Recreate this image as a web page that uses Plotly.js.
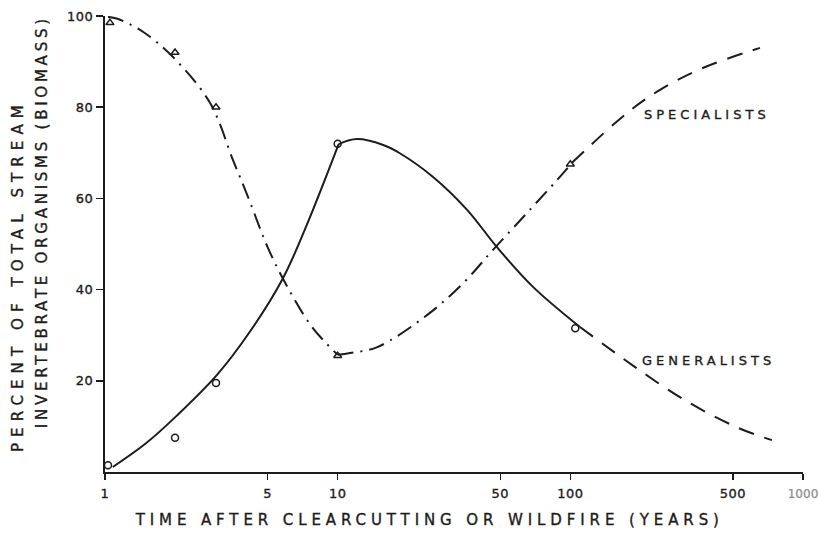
<!DOCTYPE html>
<html>
<head>
<meta charset="utf-8">
<script src="https://cdn.plot.ly/plotly-3.0.1.min.js"></script>
<style>
  html, body { margin: 0; padding: 0; background: #fff; }
  #chart { width: 819px; height: 533px; }
  .xtick text, .ytick text { letter-spacing: 0.5px; }
  .xtick text, .ytick text, .annotation text { stroke: #1c1c1c; stroke-width: 0.35px; }
  .xtick:last-of-type text { font-size: 12px !important; letter-spacing: 0; fill: #8a8a8a !important; stroke: #8a8a8a; stroke-width: 0.2px; }
  .annotation[data-index="0"] text { letter-spacing: 4px; }
  .annotation[data-index="1"] text { letter-spacing: 4px; }
  .annotation[data-index="2"] text { letter-spacing: 4.9px; }
  .annotation[data-index="3"] text { letter-spacing: 6.1px; }
  .annotation[data-index="4"] text { letter-spacing: 3.75px; }
</style>
</head>
<body>
<div id="chart"></div>
<script>
// Observed samples (percent of total biomass)
const specPtsX = [1.05, 2, 3, 10, 100];
const specPtsY = [98.5, 92, 80, 25.5, 67.5];
const genPtsX = [1.03, 2, 3, 10, 105];
const genPtsY = [1.5, 7.5, 19.5, 72, 31.5];

// Specialists fitted curve: decline, recovery, projected tail
const specFallX = [1.03, 1.13, 1.46, 1.96, 2.83, 3.55, 4.12, 5.02, 6.11, 7.76, 10.0];
const specFallY = [99.8, 99.4, 96.5, 91.0, 80.9, 68.4, 60.3, 49.1, 40.4, 31.8, 25.7];
const specRiseX = [10.0, 11.3, 14.8, 24.2, 34.6, 46.5, 65.1, 87.6, 101.6];
const specRiseY = [25.7, 26.1, 27.4, 34.4, 41.4, 48.7, 56.8, 64.0, 67.8];
const specTailX = [101.6, 175, 243, 371, 653];
const specTailY = [67.8, 78.7, 83.8, 88.6, 93.0];

// Generalists fitted curve: rise, decline, projected tail
const genRiseX = [1.08, 1.5, 2.02, 3.03, 4.2, 5.82, 7.3, 10.1];
const genRiseY = [1.1, 6.3, 12.2, 21.3, 30.8, 42.5, 53.7, 71.9];
const genFallX = [10.1, 12.1, 15.7, 18.5, 25.7, 36, 48.4, 69.1, 110];
const genFallY = [71.9, 73.0, 71.7, 69.9, 64.7, 57.5, 49.3, 40.6, 31.8];
const genTailX = [110, 184, 314, 531, 735];
const genTailY = [31.8, 23.5, 15.6, 9.6, 7.0];

const xTickVals = [1, 5, 10, 50, 100, 500, 1000];
const xTickText = ['1', '5', '10', '50', '100', '500', '1000'];
const yTickVals = [20, 40, 60, 80, 100];
const yTickText = ['20', '40', '60', '80', '100'];

const ink = '#1c1c1c';
const dashDot = '16px,7px,2px,7px';
const dashed = '16px,11px';

function curve(x, y, dash) {
  return {
    x: x, y: y, type: 'scatter', mode: 'lines', cliponaxis: false,
    line: { color: ink, width: 2, dash: dash, shape: 'spline', smoothing: 1 },
    hoverinfo: 'skip', showlegend: false
  };
}
function points(x, y, symbol) {
  return {
    x: x, y: y, type: 'scatter', mode: 'markers', cliponaxis: false,
    marker: { symbol: symbol, size: 7, color: ink, line: { color: ink, width: 1.5 } },
    showlegend: false
  };
}

const data = [
  curve(specFallX, specFallY, dashDot),
  curve(specRiseX, specRiseY, dashDot),
  curve(specTailX, specTailY, dashed),
  curve(genRiseX, genRiseY, 'solid'),
  curve(genFallX, genFallY, 'solid'),
  curve(genTailX, genTailY, dashed),
  points(specPtsX, specPtsY, 'triangle-up-open'),
  points(genPtsX, genPtsY, 'circle-open')
];

const font = { family: 'DejaVu Sans, Liberation Sans, sans-serif', color: ink };

const layout = {
  width: 819, height: 533,
  margin: { l: 105, r: 16, t: 16, b: 61 },
  paper_bgcolor: '#ffffff', plot_bgcolor: '#ffffff',
  font: Object.assign({ size: 12 }, font),
  showlegend: false,
  xaxis: {
    type: 'log', range: [0, 3],
    showgrid: false, zeroline: false,
    showline: true, linecolor: ink, linewidth: 2,
    ticks: 'outside', ticklen: 6, tickwidth: 1.5, tickcolor: ink,
    tickvals: xTickVals, ticktext: xTickText,
    ticklabelstandoff: 2, ticklabeloverflow: 'allow',
    tickfont: Object.assign({ size: 13 }, font)
  },
  yaxis: {
    range: [0, 100],
    showgrid: false, zeroline: false,
    showline: true, linecolor: ink, linewidth: 2,
    ticks: 'outside', ticklen: 7, tickwidth: 1.5, tickcolor: ink,
    tickvals: yTickVals, ticktext: yTickText,
    ticklabelstandoff: 0,
    tickfont: Object.assign({ size: 13 }, font)
  },
  annotations: [
    { text: 'SPECIALISTS', xref: 'paper', yref: 'paper', x: 0.862, y: 0.783,
      xanchor: 'center', yanchor: 'middle', showarrow: false,
      font: Object.assign({ size: 13 }, font) },
    { text: 'GENERALISTS', xref: 'paper', yref: 'paper', x: 0.865, y: 0.2456,
      xanchor: 'center', yanchor: 'middle', showarrow: false,
      font: Object.assign({ size: 13 }, font) },
    { text: 'TIME AFTER CLEARCUTTING OR WILDFIRE (YEARS)', xref: 'paper', yref: 'paper',
      x: 0.464, y: -0.105, xanchor: 'center', yanchor: 'middle', showarrow: false,
      font: Object.assign({ size: 15 }, font) },
    { text: 'PERCENT OF TOTAL STREAM', xref: 'paper', yref: 'paper',
      x: -0.1246, y: 0.43, xanchor: 'center', yanchor: 'middle', showarrow: false,
      textangle: -90, font: Object.assign({ size: 15 }, font) },
    { text: 'INVERTEBRATE ORGANISMS (BIOMASS)', xref: 'paper', yref: 'paper',
      x: -0.0903, y: 0.55, xanchor: 'center', yanchor: 'middle', showarrow: false,
      textangle: -90, font: Object.assign({ size: 15 }, font) }
  ]
};

Plotly.newPlot('chart', data, layout, { staticPlot: true, displayModeBar: false });
</script>
</body>
</html>
